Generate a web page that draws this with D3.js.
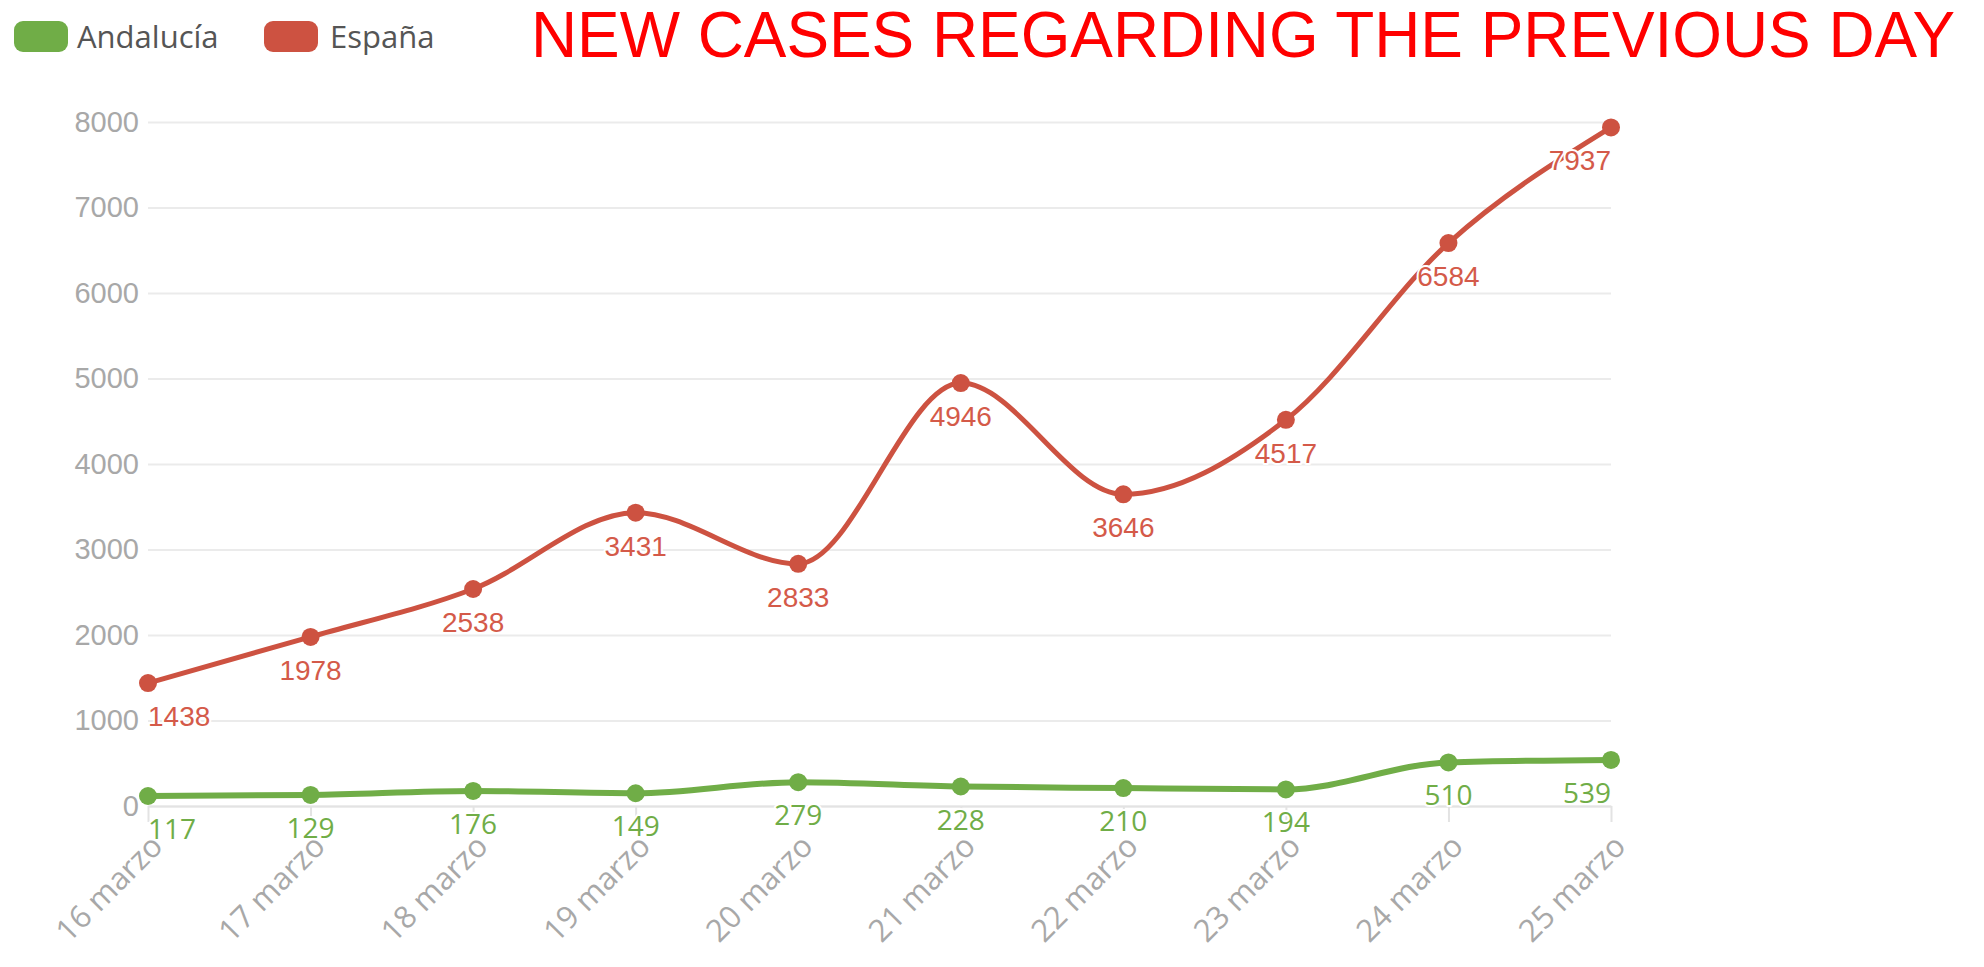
<!DOCTYPE html>
<html>
<head>
<meta charset="utf-8">
<script src="https://cdn.jsdelivr.net/npm/d3@7"></script>
<style>
  html, body { margin: 0; padding: 0; background: #fff; }
  svg { display: block; }
</style>
</head>
<body>
<div id="chart"></div>
<script>
// New cases regarding the previous day: Andalucía vs España
const categories = ["16 marzo", "17 marzo", "18 marzo", "19 marzo", "20 marzo",
  "21 marzo", "22 marzo", "23 marzo", "24 marzo", "25 marzo"];
const andalucia = [117, 129, 176, 149, 279, 228, 210, 194, 510, 539];
const espana = [1438, 1978, 2538, 3431, 2833, 4946, 3646, 4517, 6584, 7937];
const yTicks = [0, 1000, 2000, 3000, 4000, 5000, 6000, 7000, 8000];
const seriesNames = ["Andalucía", "España"];

const width = 1984, height = 967;
const plot = {left: 148, right: 1611, top: 122, bottom: 806};
const green = "#70ad47", red = "#cd5241";
const gridColor = "#ebebeb", axisGray = "#a8a8a8";

const svg = d3.select("#chart").append("svg")
  .attr("width", width).attr("height", height).attr("viewBox", `0 0 ${width} ${height}`);

const x = d3.scalePoint().domain(categories).range([plot.left, plot.right]);
const y = d3.scaleLinear().domain([0, 8000]).range([plot.bottom, plot.top]);

// gridlines
svg.append("g").attr("transform", `translate(${plot.left},0)`)
  .call(d3.axisLeft(y).tickValues(yTicks).tickSize(-(plot.right - plot.left)).tickFormat(""))
  .call(g => g.select(".domain").remove())
  .call(g => g.selectAll("line").attr("stroke", gridColor).attr("stroke-width", 2));

// y labels
svg.append("g").attr("transform", `translate(${plot.left},0)`)
  .call(d3.axisLeft(y).tickValues(yTicks).tickSize(0).tickPadding(9).tickFormat(d3.format("d")))
  .call(g => g.select(".domain").remove())
  .call(g => g.selectAll("text").attr("font-family", "'Liberation Sans', Arial, sans-serif")
    .attr("font-size", 29).attr("fill", axisGray));

// x axis
const xAxis = svg.append("g").attr("transform", `translate(0,${plot.bottom})`)
  .call(d3.axisBottom(x).tickSize(16).tickSizeOuter(0));
xAxis.select(".domain").attr("stroke", "#e3e3e3").attr("stroke-width", 2);
xAxis.selectAll("line").attr("stroke", "#e3e3e3").attr("stroke-width", 2);
xAxis.selectAll("text")
  .attr("x", 0).attr("y", 0).attr("dy", 0)
  .attr("transform", "translate(16,42) rotate(-45)")
  .attr("text-anchor", "end")
  .attr("font-family", "'Open Sans', sans-serif").attr("font-size", 31).attr("fill", "#a8a8a8");

const line = d3.line().x((d, i) => x(categories[i])).y(d => y(d)).curve(d3.curveMonotoneX);

function drawSeries(values, color, lw) {
  svg.append("path").datum(values).attr("fill", "none").attr("stroke", color)
    .attr("stroke-width", lw).attr("stroke-linejoin", "round").attr("d", line);
  svg.append("g").selectAll("circle").data(values).join("circle")
    .attr("cx", (d, i) => x(categories[i])).attr("cy", d => y(d)).attr("r", 9).attr("fill", color);
}

function drawLabels(values, color, family) {
  svg.append("g").selectAll("text").data(values).join("text")
    .attr("x", (d, i) => x(categories[i])).attr("y", d => y(d) + 43)
    .attr("text-anchor", "middle")
    .attr("font-family", family).attr("font-size", 28).attr("fill", color)
    .attr("stroke", "#fff").attr("stroke-width", 4).attr("stroke-linejoin", "round")
    .attr("paint-order", "stroke")
    .text(d => d)
    .each(function (d, i) {
      // keep labels inside the plot area
      const w = this.getComputedTextLength();
      let cx = x(categories[i]);
      if (cx - w / 2 < plot.left) cx = plot.left + w / 2;
      if (cx + w / 2 > plot.right) cx = plot.right - w / 2;
      d3.select(this).attr("x", cx);
    });
}

drawSeries(andalucia, green, 6);
drawSeries(espana, red, 5);
drawLabels(andalucia, green, "'Open Sans', sans-serif");
drawLabels(espana, "#d45a49", "'Liberation Sans', Arial, sans-serif");

// legend
const legend = svg.append("g");
[[green, 14, 77], [red, 264, 330]].forEach(([c, rx, tx], i) => {
  legend.append("rect").attr("x", rx).attr("y", 21).attr("width", 54).attr("height", 31)
    .attr("rx", 9).attr("fill", c);
  legend.append("text").attr("x", tx).attr("y", 48)
    .attr("font-family", "'Open Sans', sans-serif").attr("font-size", 31).attr("fill", "#555")
    .text(seriesNames[i]);
});

// title
svg.append("text").attr("x", 531).attr("y", 57)
  .attr("font-family", "'Liberation Sans', Arial, sans-serif").attr("font-size", 64)
  .attr("fill", "#ff0000").attr("textLength", 1424).attr("lengthAdjust", "spacingAndGlyphs")
  .text("NEW CASES REGARDING THE PREVIOUS DAY");
</script>
</body>
</html>
